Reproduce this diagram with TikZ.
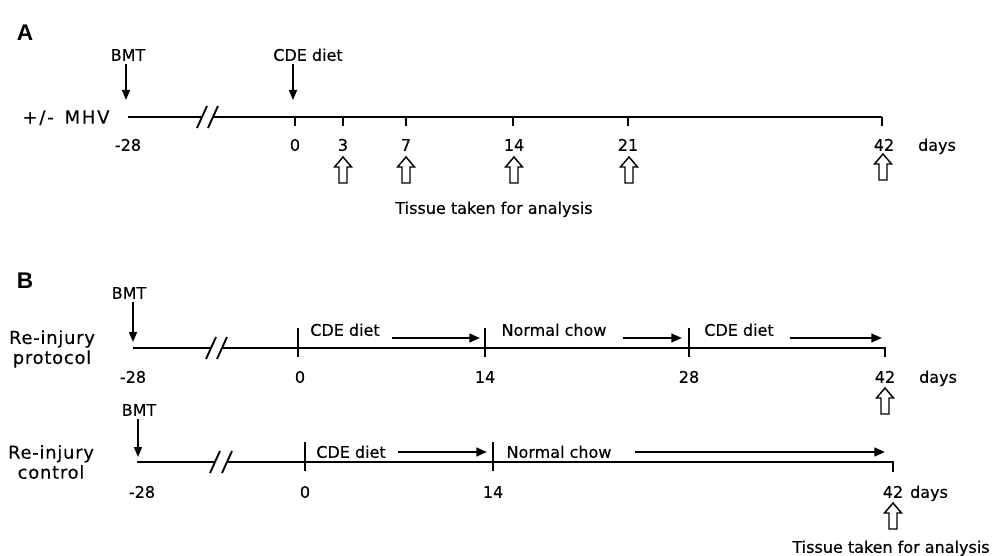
\documentclass[tikz,border=0pt]{standalone}
\usepackage{fontspec}
\setmainfont[FakeBold=0.3]{DejaVu Sans}
\newfontfamily\panelfont{Liberation Sans}
\newfontfamily\sidefont[LetterSpace=4,FakeBold=0.3]{DejaVu Sans}
\newfontfamily\mhvfont[LetterSpace=10,FakeBold=0.3]{DejaVu Sans}
\usetikzlibrary{arrows.meta}
\begin{document}
\begin{tikzpicture}[x=0.75pt,y=-0.75pt,
  txt/.style={font=\fontsize{12}{14}\selectfont, inner sep=0pt, text height=8.7pt, text depth=0pt},
  twoline/.style={font=\sidefont\fontsize{13.5}{15}\selectfont, inner sep=0pt, align=center},
  sidetxt/.style={font=\mhvfont\fontsize{13.5}{15}\selectfont, inner sep=0pt, text height=9.8pt, text depth=0pt},
  panel/.style={font=\panelfont\bfseries\fontsize{17}{19}\selectfont, inner sep=0pt, text height=12.2pt, text depth=0pt},
  tline/.style={line width=1.9pt},
  tick/.style={line width=1.9pt},
  downarr/.style={line width=1.1pt, -{Triangle[length=7.5pt,width=6pt]}},
  dietarr/.style={line width=1.7pt, -{Triangle[length=8pt,width=6.5pt]}},
  slash/.style={line width=1.4pt},
  hollowup/.pic={\draw[line width=1.1pt, line join=miter]
     (0,0) -- (8.5,10) -- (4,10) -- (4,26) -- (-4,26) -- (-4,10) -- (-8.5,10) -- cycle;}
]
\useasboundingbox (0,0) rectangle (997,556);

% ================= Panel A =================
\node[panel] (labA) at (25,32) {A};
\node[txt] (bmtA) at (128,55) {BMT};
\node[txt] (cdeA) at (308,55) {CDE diet};
\node[sidetxt] (mhv) at (66,117) {+/-\hspace{0.6em}MHV};

\coordinate (a28) at (128,117);
\coordinate (aS1) at (202,117);
\coordinate (aS2) at (213,117);
\coordinate (a0) at (295,117);
\coordinate (a3) at (343,117);
\coordinate (a7) at (406,117);
\coordinate (a14) at (513,117);
\coordinate (a21) at (628,117);
\coordinate (a42) at (882,117);
\coordinate (bmtAtip) at (126,100);
\coordinate (cdeAtip) at (293,100);

\draw[downarr] (bmtA.south -| bmtAtip) ++(0,3) -- (bmtAtip);
\draw[downarr] (cdeA.south -| cdeAtip) ++(0,3) -- (cdeAtip);

\draw[tline] (a28) -- (aS1);
\draw[tline] (aS2) -- (a42);
\draw[slash] (aS1) ++(-5,11) -- ++(10,-22);
\draw[slash] (aS2) ++(-5,11) -- ++(10,-22);
\foreach \c in {a0,a3,a7,a14,a21,a42} \draw[tick] (\c) -- ++(0,9);

\node[txt] (nA28) at (128,145) {-28};
\node[txt] (nA0) at (295,145) {0};
\node[txt] (nA3) at (343,145) {3};
\node[txt] (nA7) at (406,145) {7};
\node[txt] (nA14) at (514,145) {14};
\node[txt] (nA21) at (628,145) {21};
\node[txt] (nA42) at (884,145) {42};
\node[txt] (daysA) at (937,145) {days};

\pic at (343,157) {hollowup};
\pic at (406,157) {hollowup};
\pic at (514,157) {hollowup};
\pic at (629,157) {hollowup};
\pic at (883,154) {hollowup};

\node[txt] (tissueA) at (494,208) {Tissue taken for analysis};

% ================= Panel B: protocol =================
\node[panel] (labB) at (25,280) {B};
\node[txt] (bmtB) at (129,293) {BMT};
\node[twoline] (prot) at (52,349) {Re-injury\\protocol};

\coordinate (b28) at (133,348);
\coordinate (bS1) at (211,348);
\coordinate (bS2) at (222,348);
\coordinate (b0) at (298,348);
\coordinate (b14) at (485,348);
\coordinate (b28p) at (689,348);
\coordinate (b42) at (885,348);
\coordinate (bmtBtip) at (133,342);

\draw[downarr] (bmtB.south -| bmtBtip) ++(0,3) -- (bmtBtip);
\draw[tline] (b28) -- (bS1);
\draw[tline] (bS2) -- (b42) -- ++(0,9);
\draw[slash] (bS1) ++(-5,11) -- ++(10,-22);
\draw[slash] (bS2) ++(-5,11) -- ++(10,-22);
\foreach \c in {b0,b14,b28p} \draw[tick] (\c) ++(0,-20) -- ++(0,29);

\node[txt] (cdeB1) at (345,330) {CDE diet};
\node[txt] (chowB) at (554,330) {Normal chow};
\node[txt] (cdeB2) at (739,330) {CDE diet};
\coordinate (pa1s) at (392,338); \coordinate (pa1e) at (480,338);
\coordinate (pa2s) at (623,338); \coordinate (pa2e) at (682,338);
\coordinate (pa3s) at (790,338); \coordinate (pa3e) at (882,338);
\draw[dietarr] (pa1s) -- (pa1e);
\draw[dietarr] (pa2s) -- (pa2e);
\draw[dietarr] (pa3s) -- (pa3e);

\node[txt] (nB28) at (133,377) {-28};
\node[txt] (nB0) at (300,377) {0};
\node[txt] (nB14) at (485,377) {14};
\node[txt] (nB28p) at (689,377) {28};
\node[txt] (nB42) at (885,377) {42};
\node[txt] (daysB) at (938,377) {days};
\pic at (885,388) {hollowup};

% ================= Panel B: control =================
\node[txt] (bmtC) at (139,410) {BMT};
\node[twoline] (ctrl) at (51,462) {Re-injury\\control};

\coordinate (c28) at (137,462);
\coordinate (cS1) at (215,462);
\coordinate (cS2) at (227,462);
\coordinate (c0) at (305,462);
\coordinate (c14) at (493,462);
\coordinate (c42) at (893,462);
\coordinate (bmtCtip) at (138,457);

\draw[downarr] (bmtC.south -| bmtCtip) ++(0,3) -- (bmtCtip);
\draw[tline] (c28) -- (cS1);
\draw[tline] (cS2) -- (c42) -- ++(0,10);
\draw[slash] (cS1) ++(-5,11) -- ++(10,-22);
\draw[slash] (cS2) ++(-5,11) -- ++(10,-22);
\foreach \c in {c0,c14} \draw[tick] (\c) ++(0,-20) -- ++(0,29);

\node[txt] (cdeC) at (351,452) {CDE diet};
\node[txt] (chowC) at (559,452) {Normal chow};
\coordinate (ca1s) at (398,452); \coordinate (ca1e) at (487,452);
\coordinate (ca2s) at (635,452); \coordinate (ca2e) at (885,452);
\draw[dietarr] (ca1s) -- (ca1e);
\draw[dietarr] (ca2s) -- (ca2e);

\node[txt] (nC28) at (142,492) {-28};
\node[txt] (nC0) at (305,492) {0};
\node[txt] (nC14) at (493,492) {14};
\node[txt] (nC42) at (893,492) {42};
\node[txt] (daysC) at (929,492) {days};
\pic at (893,503) {hollowup};

\node[txt] (tissueC) at (891,547) {Tissue taken for analysis};
\end{tikzpicture}
\end{document}
